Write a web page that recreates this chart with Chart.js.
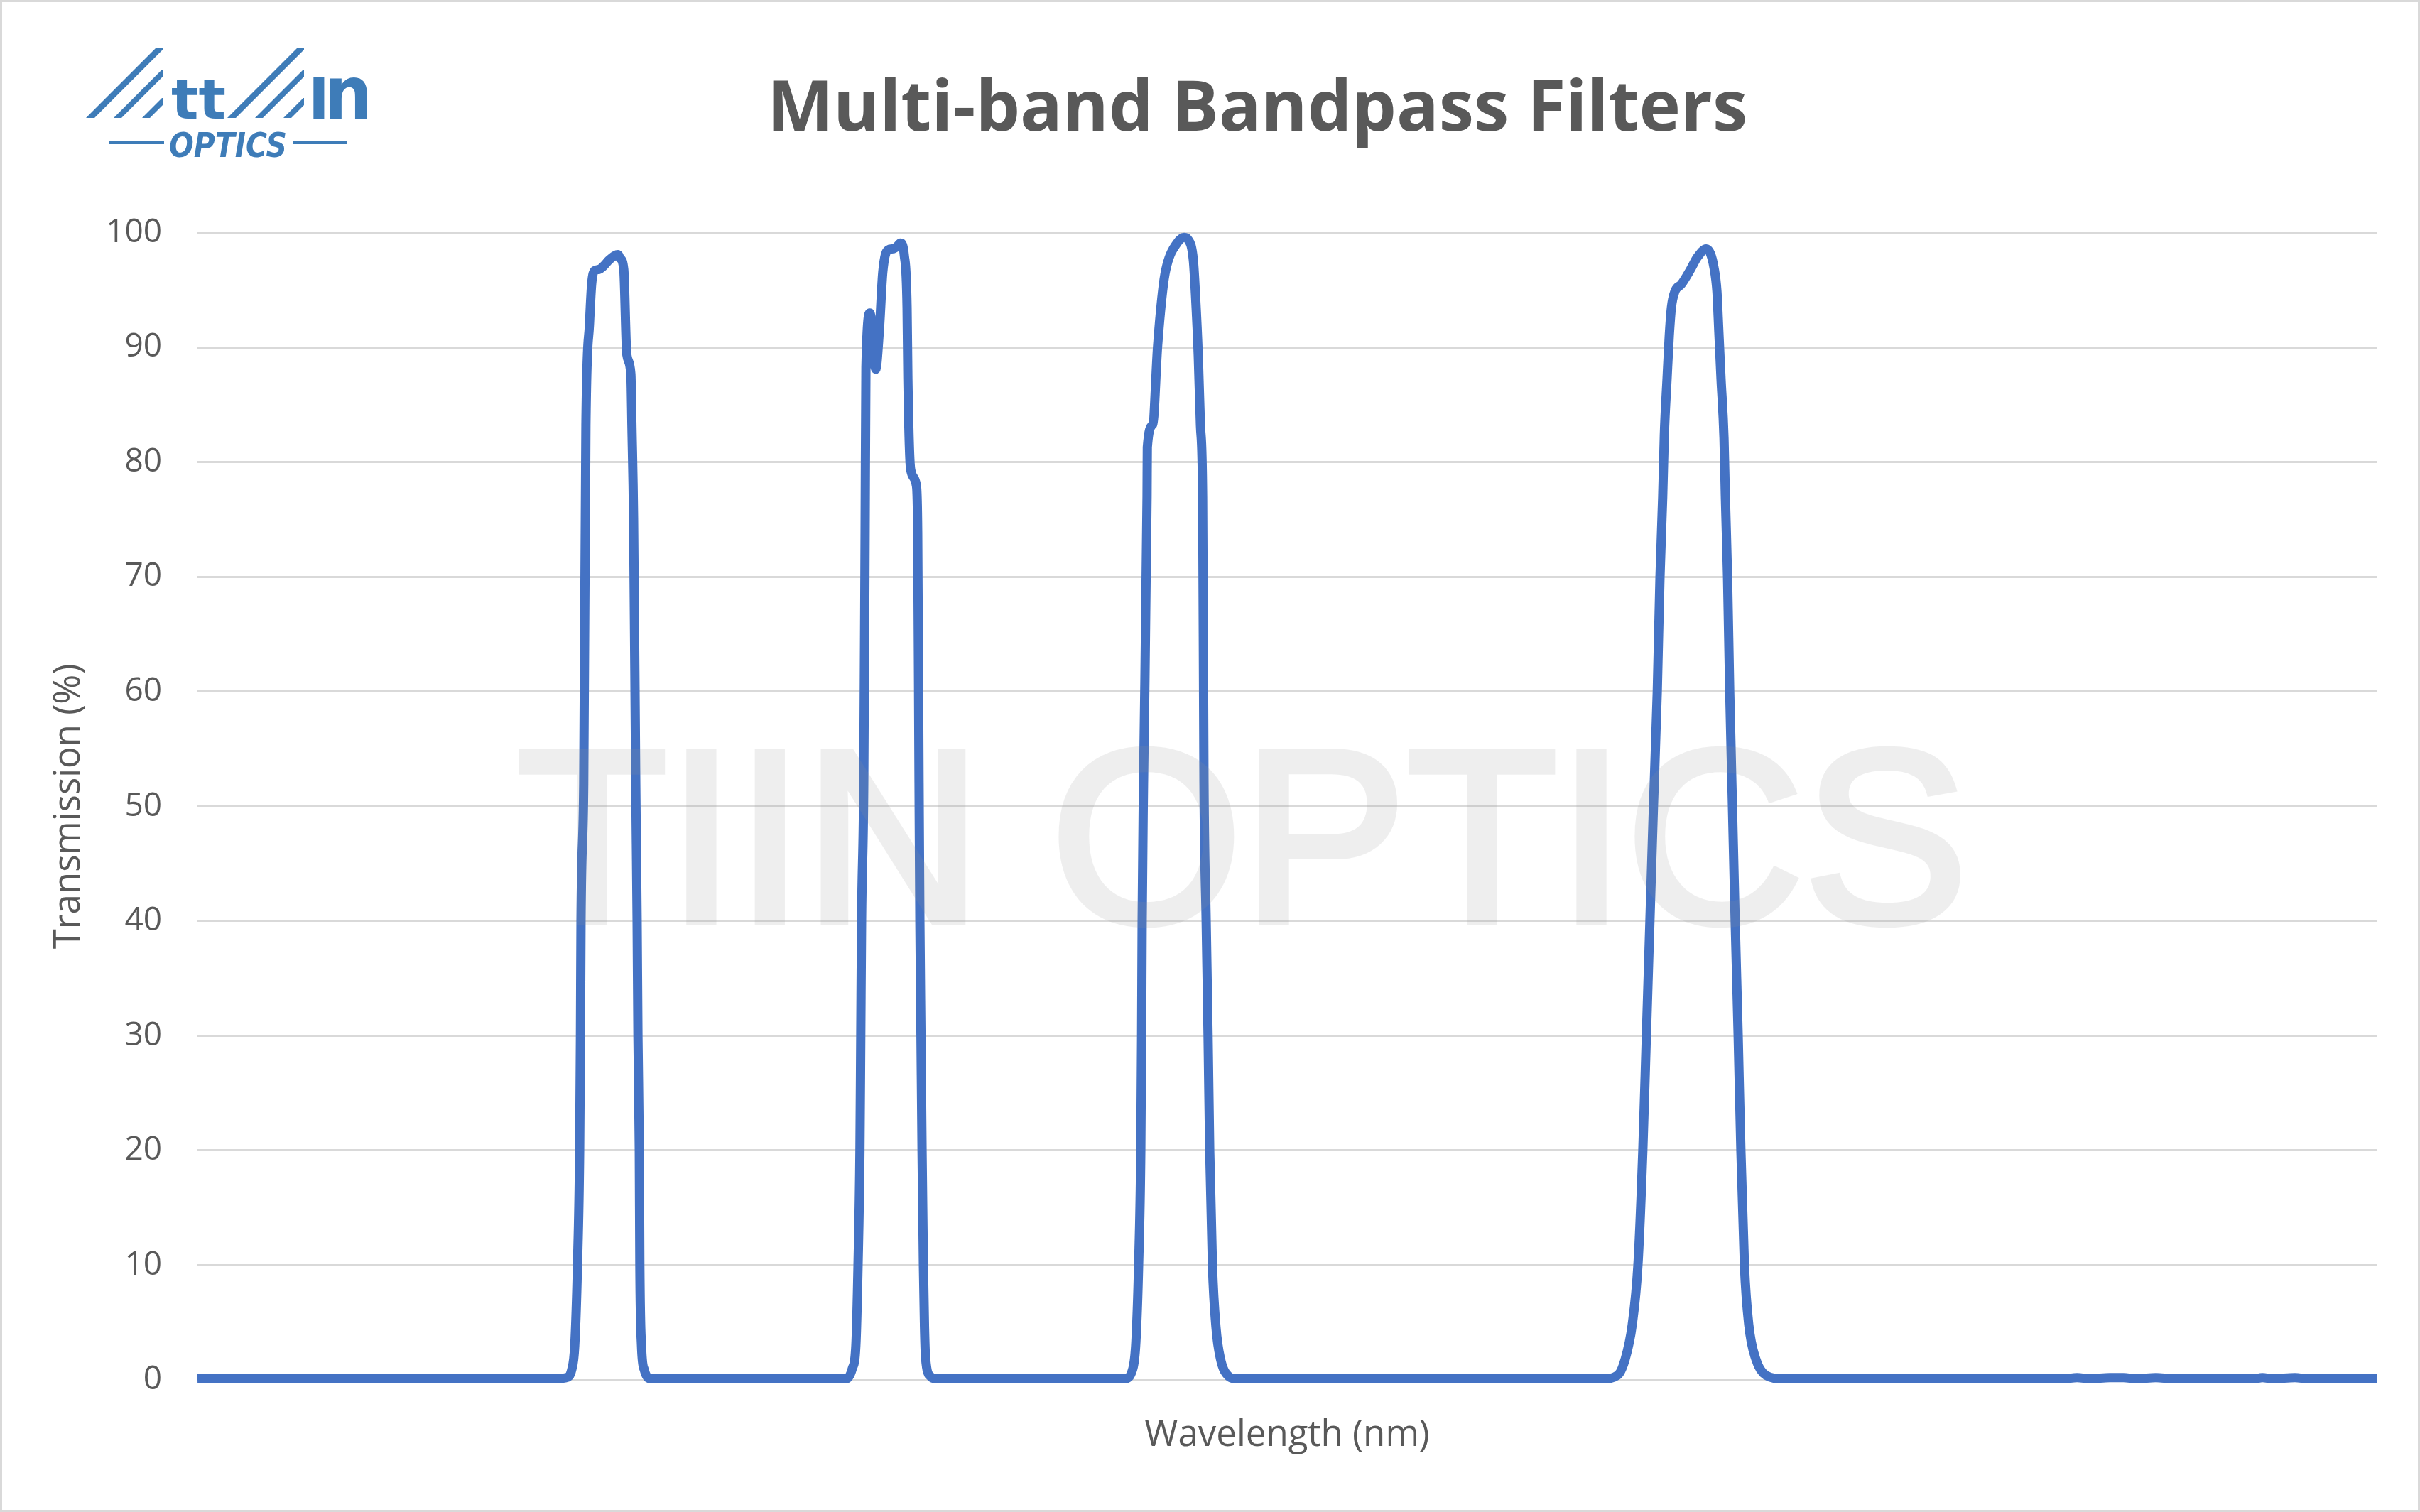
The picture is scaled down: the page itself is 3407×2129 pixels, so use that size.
<!DOCTYPE html>
<html>
<head>
<meta charset="utf-8">
<script src="https://cdn.jsdelivr.net/npm/chart.js@4.4.1/dist/chart.umd.min.js"></script>
<style>
html,body{margin:0;padding:0;background:#fff;}
#wrap{position:relative;width:3407px;height:2129px;overflow:hidden;}
#c{position:absolute;left:0;top:0;}
#logo{position:absolute;left:0;top:0;}
</style>
</head>
<body>
<div id="wrap">
<canvas id="c" width="3407" height="2129"></canvas>
<svg id="logo" width="560" height="240" viewBox="0 0 560 240">
  <g fill="#3e7cb8">
    <polygon points="121,166 133,166 229,70 229,67 220,67"/>
    <polygon points="160,166 171,166 229,108 229,99 227,99"/>
    <polygon points="200,166 211,166 229,148 229,138 228,138"/>
    <polygon points="320,166 332,166 428,70 428,67 419,67"/>
    <polygon points="359,166 370,166 428,108 428,99 426,99"/>
    <polygon points="399,166 410,166 428,148 428,138 427,138"/>
    <text x="241" y="167" font-family="DejaVu Sans" font-weight="bold" font-size="78" textLength="77" lengthAdjust="spacingAndGlyphs">tt</text>
    <text x="434" y="167" font-family="DejaVu Sans" font-weight="bold" font-size="80">I</text>
    <text transform="translate(456,167) scale(1.2,1.3)" font-family="DejaVu Sans" font-weight="bold" font-size="80">n</text>
    <rect x="154" y="199" width="77" height="4"/>
    <rect x="413" y="199" width="76" height="4"/>
    <text x="238" y="221" font-family="DejaVu Sans" font-style="italic" font-weight="bold" font-size="48" textLength="166" lengthAdjust="spacingAndGlyphs">OPTICS</text>
  </g>
</svg>
</div>
<script>
// Wavelength (nm) and transmission (%)
const wavelengthNm = [
  300,310,320,330,340,350,360,370,380,390,400,410,420,430,
  435.3,437.4,438.5,439.5,440.3,440.6,440.8,441.8,442.6,443.9,444.7,445.8,447.3,449.1,451.0,453.1,454.4,455.1,456.5,457.6,459.1,459.5,460.1,460.9,461.4,461.7,462.2,462.4,463.0,464.0,466.6,
  475,485,495,505,515,525,533,
  538.3,540.4,541.7,542.5,543.2,543.5,543.8,544.6,545.1,545.4,546.9,549.0,550.3,551.6,553.5,555.3,556.8,558.1,559.5,560.5,560.8,561.8,563.9,564.4,564.9,565.2,565.6,566.0,566.5,566.9,567.3,569.1,571.2,
  580,590,600,610,620,630,636,
  640.3,643.4,644.5,645.5,646.3,646.6,646.8,647.3,648.6,648.7,650.7,652.5,654.6,655.9,659.6,662.2,663.7,665.6,666.4,667.4,668.2,669.0,669.5,670.3,671.0,671.6,672.6,673.9,675.5,678.6,681.2,
  690,700,710,720,730,740,750,760,770,780,790,800,810,
  816.0,821.3,824.1,826.7,828.8,830.6,831.9,833.2,834.5,835.9,836.9,837.9,838.5,839.5,840.3,841.1,842.4,844.7,848.1,850.7,853.9,855.4,856.7,857.8,858.5,859.3,860.4,860.9,861.7,862.5,863.5,864.5,865.6,866.6,867.9,869.5,872.1,875.8,882.0,
  895,910,925,940,955,970,985,990,995,1002,1007,1012,1019,1025,1040,1055,1058,1062,1070,1075,1085,1100
];
const transmissionPct = [
  0.1,0.15,0.1,0.15,0.1,0.1,0.15,0.1,0.15,0.1,0.1,0.15,0.1,0.1,
  0.2,0.9,3,10,20,30,40,52,83.2,92,95.5,96.7,96.8,97.1,97.6,98.0,98.1,97.8,96.8,89.4,87.7,83,75,52,40,30,20,10,3,0.9,0.1,
  0.15,0.1,0.15,0.1,0.1,0.15,0.1,
  0.1,1,3,10,20,30,40,52,74,88.3,93.0,88.1,91.4,96.6,98.5,98.6,98.8,99.1,98.0,93.5,87.3,79.4,78.0,73.9,52,40,30,20,10,4.6,1.9,0.3,0.1,
  0.15,0.1,0.1,0.15,0.1,0.1,0.1,
  0.1,1,3.3,10,20,30,40,52,77,81.3,83.3,90.2,95.5,97.2,99.1,99.6,99.4,97.6,94.5,89.3,83.2,77,52,40,30,20,10,4.6,1.9,0.3,0.1,
  0.1,0.15,0.1,0.1,0.15,0.1,0.1,0.15,0.1,0.1,0.15,0.1,0.1,
  0.1,0.4,1.8,4.8,10,20,30,40,50,60,70,77,82.4,87.3,91,93.5,94.9,95.5,96.8,97.9,98.6,98.2,97,94.9,91.4,87.3,82.1,77,70,60,50,40,30,20,10,4.8,1.8,0.4,0.1,
  0.1,0.15,0.1,0.1,0.15,0.1,0.1,0.2,0.1,0.2,0.2,0.1,0.2,0.1,0.1,0.1,0.2,0.1,0.2,0.1,0.1,0.1
];
const yTickValues = [0,10,20,30,40,50,60,70,80,90,100];
const chartTitle = 'Multi-band Bandpass Filters';
const xAxisTitle = 'Wavelength (nm)';
const yAxisTitle = 'Transmission (%)';
const watermarkText = 'TIIN OPTICS';

const points = wavelengthNm.map((x, i) => ({ x: x, y: transmissionPct[i] }));

const backgroundPlugin = {
  id: 'background',
  beforeDraw(chart) {
    const ctx = chart.ctx;
    ctx.save();
    ctx.fillStyle = '#ffffff';
    ctx.fillRect(0, 0, chart.width, chart.height);
    ctx.strokeStyle = '#d9d9d9';
    ctx.lineWidth = 3;
    ctx.strokeRect(1.5, 1.5, chart.width - 3, chart.height - 3);
    ctx.restore();
  }
};

const watermarkPlugin = {
  id: 'watermark',
  afterDatasetsDraw(chart) {
    // draw opaque text offscreen, then composite once with low alpha
    const off = document.createElement('canvas');
    off.width = chart.width;
    off.height = chart.height;
    const o = off.getContext('2d');
    o.font = '347px "Liberation Sans"';
    o.fillStyle = '#949494';
    o.strokeStyle = '#949494';
    o.lineWidth = 10;
    o.lineJoin = 'miter';
    o.textAlign = 'center';
    o.textBaseline = 'alphabetic';
    o.fillText(watermarkText, 1749, 1298);
    o.strokeText(watermarkText, 1749, 1298);
    const ctx = chart.ctx;
    ctx.save();
    ctx.globalAlpha = 0.15;
    ctx.drawImage(off, 0, 0);
    ctx.restore();
  }
};

new Chart(document.getElementById('c'), {
  type: 'line',
  data: {
    datasets: [{
      label: 'Transmission',
      data: points,
      borderColor: '#4472C4',
      borderWidth: 13,
      pointRadius: 0,
      fill: false,
      cubicInterpolationMode: 'monotone',
      borderJoinStyle: 'round',
      clip: false
    }]
  },
  options: {
    responsive: false,
    animation: false,
    devicePixelRatio: 1,
    events: [],
    layout: { padding: { left: 133, right: 0, top: 0, bottom: 0 } },
    plugins: {
      legend: { display: false },
      tooltip: { enabled: false },
      title: {
        display: true,
        text: chartTitle,
        color: '#595959',
        font: { family: '"Open Sans"', size: 99, weight: 'bold', lineHeight: 1.2 },
        padding: { top: 96, bottom: 113 }
      }
    },
    scales: {
      x: {
        type: 'linear',
        min: 300,
        max: 1100,
        grid: { display: false },
        border: { display: false },
        ticks: { display: false },
        title: {
          display: true,
          text: xAxisTitle,
          color: '#595959',
          font: { family: '"Open Sans"', size: 51, lineHeight: 1.2 },
          padding: { top: 0, bottom: 77 }
        },
        afterFit(s) { s.height = 186; }
      },
      y: {
        min: 0,
        max: 100,
        afterBuildTicks(s) { s.ticks = yTickValues.map(v => ({ value: v })); },
        ticks: {
          color: '#595959',
          padding: 50,
          font: { family: '"Open Sans"', size: 46 }
        },
        grid: { color: '#d9d9d9', lineWidth: 3, drawTicks: false },
        border: { display: false },
        title: {
          display: true,
          text: yAxisTitle,
          color: '#595959',
          font: { family: '"Open Sans"', size: 51, lineHeight: 1.2 },
          padding: { top: -66, bottom: 0 }
        },
        afterFit(s) { s.width = 145; }
      },
      rightMargin: {
        type: 'linear',
        position: 'right',
        display: true,
        grid: { display: false },
        border: { display: false },
        ticks: { display: false },
        afterFit(s) { s.width = 61; }
      }
    }
  },
  plugins: [backgroundPlugin, watermarkPlugin]
});
</script>
</body>
</html>
